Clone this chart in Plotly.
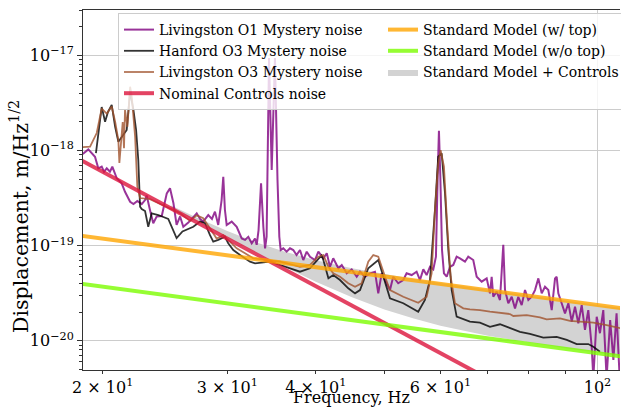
import plotly.graph_objects as go

# ---------------- data ----------------
# Livingston O1 Mystery noise
lo1_f = [18.75, 19.09, 19.51, 19.72, 19.94, 20.09, 20.27, 20.48, 20.64, 20.94, 21.28, 21.51,
         21.87, 22.11, 22.39, 22.71, 22.96, 23.08, 23.33, 23.58, 23.84, 24.24, 24.64, 24.90,
         25.18, 25.44, 25.73, 26.00, 26.43, 26.86, 27.16, 27.46, 27.74, 28.20, 28.54, 28.82,
         29.13, 29.45, 29.61, 29.77, 29.94, 30.43, 30.93, 31.44, 31.78, 32.12, 32.48, 32.83,
         33.01, 33.21, 33.48, 33.73, 33.92, 34.09, 34.36, 34.66, 35.03, 35.32, 35.53, 35.69,
         35.99, 36.39, 36.79, 37.18, 37.58, 38.00, 38.41, 38.84, 39.26, 39.90, 40.34, 41.00,
         41.46, 41.90, 42.34, 43.05, 43.53, 44.24, 44.96, 45.70, 46.19, 46.94, 47.72, 48.49,
         49.02, 49.56, 50.11, 50.92, 51.46, 52.30, 53.17, 53.75, 54.64, 55.53, 56.14, 56.75,
         57.37, 57.99, 58.62, 59.13, 59.46, 59.71, 59.98, 60.31, 60.69, 61.24, 61.89, 62.56,
         63.25, 63.93, 64.99, 65.68, 66.76, 67.51, 68.61, 69.74, 70.49, 70.88, 71.25, 72.04,
         72.82, 73.61, 74.02, 74.82, 75.65, 76.47, 77.29, 78.15, 79.00, 79.86, 80.74, 81.61,
         82.50, 83.41, 84.30, 85.22, 86.17, 87.10, 87.57, 88.04, 89.00, 89.97, 90.96, 91.96,
         92.95, 93.95, 94.99, 96.01, 97.05, 98.13, 98.65, 99.74, 100.8, 101.9, 103.0, 104.2,
         105.3, 106.4, 107.6]
lo1_v = [9.20e-19, 1.03e-18, 8.62e-19, 6.51e-19, 6.77e-19, 5.99e-19, 6.51e-19, 5.99e-19,
         6.77e-19, 5.11e-19, 4.53e-19, 3.69e-19, 2.90e-19, 2.74e-19, 2.95e-19, 2.74e-19,
         3.02e-19, 3.37e-19, 2.37e-19, 1.72e-19, 2.02e-19, 2.05e-19, 3.55e-19, 4.01e-19,
         2.79e-19, 1.65e-19, 2.03e-19, 1.58e-19, 1.75e-19, 2.02e-19, 2.19e-19, 1.91e-19,
         1.79e-19, 2.10e-19, 1.91e-19, 2.28e-19, 1.65e-19, 3.02e-19, 5.31e-19, 2.37e-19,
         1.65e-19, 1.79e-19, 1.58e-19, 1.19e-19, 1.15e-19, 1.24e-19, 1.06e-19, 1.19e-19,
         1.02e-19, 1.46e-19, 4.53e-19, 1.58e-19, 9.38e-20, 1.24e-19, 9.41e-18, 6.25e-19,
         9.41e-18, 4.90e-19, 1.24e-19, 9.00e-20, 9.38e-20, 8.64e-20, 9.38e-20, 9.00e-20,
         7.97e-20, 9.00e-20, 7.06e-20, 8.64e-20, 7.65e-20, 7.06e-20, 8.64e-20, 7.36e-20,
         8.31e-20, 6.00e-20, 7.36e-20, 5.78e-20, 6.26e-20, 5.12e-20, 5.63e-20, 4.71e-20,
         5.32e-20, 4.71e-20, 5.12e-20, 5.32e-20, 3.15e-20, 5.12e-20, 4.35e-20, 3.41e-20,
         4.71e-20, 4.02e-20, 4.35e-20, 5.12e-20, 4.91e-20, 5.32e-20, 4.35e-20, 5.63e-20,
         4.91e-20, 6.00e-20, 5.63e-20, 7.65e-20, 5.31e-19, 1.62e-18, 5.31e-19, 9.00e-20,
         5.12e-20, 4.71e-20, 6.00e-20, 6.26e-20, 7.65e-20, 7.36e-20, 6.78e-20, 7.65e-20,
         7.06e-20, 4.71e-20, 4.18e-20, 4.53e-20, 3.15e-20, 4.71e-20, 2.90e-20, 3.28e-20,
         2.68e-20, 1.02e-19, 3.41e-20, 2.48e-20, 2.90e-20, 2.19e-20, 2.90e-20, 2.37e-20,
         3.41e-20, 2.68e-20, 2.90e-20, 3.41e-20, 4.53e-20, 3.15e-20, 3.70e-20, 3.41e-20,
         2.10e-20, 4.53e-20, 4.71e-20, 3.15e-20, 2.48e-20, 1.94e-20, 2.48e-20, 1.59e-20,
         2.28e-20, 1.52e-20, 2.37e-20, 1.30e-20, 2.10e-20, 8.65e-21, 4.05e-21, 1.79e-20,
         1.20e-20, 2.10e-20, 4.05e-21, 1.65e-20, 6.27e-21, 1.94e-20, 3.42e-21]

# Hanford O3 Mystery noise
h3_f = [19.57, 19.73, 19.94, 20.16, 20.35, 20.60, 20.83, 21.05, 21.30, 21.63, 21.87, 22.11,
        22.30, 22.46, 22.59, 22.71, 22.96, 23.20, 23.46, 23.97, 24.76, 25.44, 25.93, 26.86,
        27.46, 27.90, 28.36, 28.66, 29.13, 29.77, 30.09, 30.59, 31.27, 32.30, 32.83, 34.47,
        35.61, 37.18, 38.00, 39.26, 40.34, 40.76, 41.00, 41.68, 42.34, 43.28, 44.46, 45.45,
        46.19, 47.45, 49.02, 50.11, 50.92, 53.17, 55.82, 57.05, 57.99, 58.94, 59.57, 60.24,
        60.90, 61.56, 62.24, 63.25, 66.04, 68.23, 70.49, 72.82, 75.22, 77.71, 80.28, 83.84,
        87.57, 90.49, 93.46, 97.05, 98.65, 100.8]
h3_v = [9.43e-19, 1.46e-18, 2.87e-18, 2.01e-18, 2.55e-18, 3.02e-18, 1.78e-18, 1.24e-18,
        1.42e-18, 1.65e-18, 4.16e-18, 2.67e-18, 1.65e-18, 7.96e-19, 2.57e-19, 2.43e-19,
        2.31e-19, 1.58e-19, 2.19e-19, 2.10e-19, 1.91e-19, 1.20e-19, 1.41e-19, 1.58e-19,
        1.79e-19, 1.72e-19, 1.29e-19, 1.10e-19, 1.15e-19, 1.24e-19, 1.06e-19, 9.00e-20,
        7.97e-20, 6.78e-20, 6.52e-20, 6.78e-20, 6.26e-20, 5.63e-20, 5.32e-20, 5.78e-20,
        7.36e-20, 7.88e-20, 7.06e-20, 4.53e-20, 4.91e-20, 4.35e-20, 3.56e-20, 3.15e-20,
        3.41e-20, 5.78e-20, 7.06e-20, 4.02e-20, 2.79e-20, 2.48e-20, 2.02e-20, 2.68e-20,
        4.35e-20, 2.37e-19, 8.62e-19, 9.36e-19, 3.55e-19, 9.00e-20, 3.41e-20, 1.79e-20,
        1.59e-20, 1.55e-20, 1.40e-20, 1.49e-20, 1.35e-20, 1.24e-20, 1.18e-20, 1.08e-20,
        1.10e-20, 1.02e-20, 9.23e-21, 9.23e-21, 8.65e-21, 7.66e-21]

# Livingston O3 Mystery noise
lo3_f = [18.76, 19.20, 19.62, 19.94, 20.27, 20.60, 20.83, 21.05, 21.12, 21.35, 21.44, 21.51,
         21.68, 21.87, 21.99, 22.23, 22.39, 22.59, 23.33, 24.11, 24.90, 25.73, 26.58, 27.16,
         27.74, 28.20, 28.51, 28.98, 29.61, 30.27, 30.93, 31.78, 32.65, 34.09, 35.61, 37.18,
         38.00, 39.26, 40.34, 41.00, 41.68, 42.34, 43.28, 44.46, 45.45, 46.44, 47.45, 48.23,
         49.02, 50.11, 50.92, 53.17, 55.82, 57.37, 58.31, 58.94, 59.57, 60.04, 60.69, 61.35,
         62.03, 62.90, 64.63, 66.04, 68.23, 70.49, 72.82, 75.22, 76.05, 79.43, 82.93, 84.75,
         88.51, 91.43, 94.46, 98.65, 103.0, 107.9]
lo3_v = [1.09e-18, 1.10e-18, 1.53e-18, 2.77e-18, 2.45e-18, 2.91e-18, 2.01e-18, 1.29e-18,
         7.40e-19, 2.00e-18, 1.06e-18, 2.67e-18, 1.78e-18, 4.70e-18, 3.69e-18, 1.40e-18,
         4.17e-19, 3.17e-19, 3.09e-19, 2.74e-19, 2.47e-19, 2.19e-19, 1.82e-19, 2.08e-19,
         1.94e-19, 1.61e-19, 1.40e-19, 1.19e-19, 1.29e-19, 1.10e-19, 9.38e-20, 8.31e-20,
         7.36e-20, 7.06e-20, 6.78e-20, 6.26e-20, 6.00e-20, 6.26e-20, 7.65e-20, 7.97e-20,
         6.00e-20, 5.12e-20, 4.71e-20, 4.02e-20, 3.70e-20, 4.02e-20, 6.78e-20, 7.97e-20,
         7.65e-20, 4.71e-20, 3.41e-20, 2.90e-20, 2.51e-20, 2.90e-20, 5.12e-20, 2.37e-19,
         7.35e-19, 1.01e-18, 6.77e-19, 1.58e-19, 4.71e-20, 2.48e-20, 2.19e-20, 2.14e-20,
         2.10e-20, 2.02e-20, 1.97e-20, 1.91e-20, 1.82e-20, 1.86e-20, 1.76e-20, 1.68e-20,
         1.72e-20, 1.62e-20, 1.59e-20, 1.55e-20, 1.46e-20, 1.35e-20]

# Nominal Controls noise (straight line on log-log axes)
ctrl_f = [18.0, 110.0]
ctrl_v = [9.14e-19, 6.56e-22]

# Standard Model (w/ top) and (w/o top)
smtop_f = [18.0, 110.0]
smtop_v = [1.32e-19, 2.16e-20]
smnotop_f = [18.0, 110.0]
smnotop_v = [4.11e-20, 6.73e-21]

# Standard Model + Controls band
band_f = [25, 27, 30, 33, 36, 40, 45, 50, 55, 60, 70, 80, 90, 100, 110]
band_hi = [2.64e-19, 2.01e-19, 1.43e-19, 1.08e-19, 8.74e-20, 7.03e-20, 5.78e-20, 5.00e-20,
           4.45e-20, 4.04e-20, 3.42e-20, 2.98e-20, 2.65e-20, 2.38e-20, 2.17e-20]
band_lo = [2.48e-19, 1.83e-19, 1.21e-19, 8.40e-20, 6.07e-20, 4.18e-20, 2.86e-20, 2.13e-20,
           1.71e-20, 1.44e-20, 1.13e-20, 9.54e-21, 8.35e-21, 7.46e-21, 6.76e-21]

# axis ticks
x_major_vals = [100]
x_major_text = ["10<sup>2</sup>"]
x_label_vals = [20, 30, 40, 60]
x_label_text = ["2 × 10<sup>1</sup>", "3 × 10<sup>1</sup>", "4 × 10<sup>1</sup>",
                "6 × 10<sup>1</sup>"]
x_minor = [50, 70, 80, 90]
y_tickvals = [1e-20, 1e-19, 1e-18, 1e-17]
y_ticktext = ["10<sup>−20</sup>", "10<sup>−19</sup>", "10<sup>−18</sup>", "10<sup>−17</sup>"]
y_minor = [k * 10.0 ** e for e in range(-21, -16) for k in range(2, 10)]

# ---------------- figure ----------------
FONT = "DejaVu Serif"
fig = go.Figure()

fig.add_trace(go.Scatter(x=band_f, y=band_lo, mode="lines", line=dict(width=0),
                         showlegend=False, hoverinfo="skip"))
fig.add_trace(go.Scatter(x=band_f, y=band_hi, mode="lines", line=dict(width=0),
                         fill="tonexty", fillcolor="rgba(211,211,211,1)",
                         name="Standard Model + Controls", legendrank=6))
fig.add_trace(go.Scatter(x=lo1_f, y=lo1_v, mode="lines",
                         line=dict(color="rgba(128,0,128,0.8)", width=2),
                         name="Livingston O1 Mystery noise", legendrank=1))
fig.add_trace(go.Scatter(x=h3_f, y=h3_v, mode="lines",
                         line=dict(color="rgba(0,0,0,0.8)", width=1.8),
                         name="Hanford O3 Mystery noise", legendrank=3))
fig.add_trace(go.Scatter(x=lo3_f, y=lo3_v, mode="lines",
                         line=dict(color="rgba(160,82,45,0.8)", width=1.8),
                         name="Livingston O3 Mystery noise", legendrank=5))
fig.add_trace(go.Scatter(x=ctrl_f, y=ctrl_v, mode="lines",
                         line=dict(color="rgba(220,20,60,0.8)", width=4),
                         name="Nominal Controls noise", legendrank=7))
fig.add_trace(go.Scatter(x=smtop_f, y=smtop_v, mode="lines",
                         line=dict(color="rgba(255,165,0,0.8)", width=4),
                         name="Standard Model (w/ top)", legendrank=2))
fig.add_trace(go.Scatter(x=smnotop_f, y=smnotop_v, mode="lines", xaxis="x2",
                         line=dict(color="rgba(124,252,0,0.8)", width=4),
                         name="Standard Model (w/o top)", legendrank=4))

W, H = 621, 407
ml, mr, mt, mb = 83, 1, 10, 37
pw = W - ml - mr
ph = H - mt - mb
XR = [1.27331, 2.03178]


def px_x(p):
    return (p - ml) / pw


def px_y(p):
    return 1 - (p - mt) / ph


fig.update_layout(
    width=W, height=H,
    margin=dict(l=ml, r=mr, t=mt, b=mb, pad=0, autoexpand=False),
    paper_bgcolor="white", plot_bgcolor="white",
    font=dict(family=FONT, size=16, color="black"),
    showlegend=True,
    legend=dict(
        orientation="h", entrywidth=219, entrywidthmode="pixels",
        x=px_x(118), y=px_y(13), xanchor="left", yanchor="top",
        bgcolor="rgba(255,255,255,0.8)", bordercolor="#cccccc", borderwidth=1,
        font=dict(family=FONT, size=14, color="black"),
        traceorder="normal", itemwidth=30,
    ),
    xaxis=dict(
        type="log", range=XR, automargin=False,
        tickmode="array", tickvals=x_major_vals, ticktext=x_major_text,
        ticks="outside", ticklen=3, tickcolor="#333333",
        showgrid=True, gridcolor="#cccccc", gridwidth=1, zeroline=False,
        showline=True, linecolor="#333333", linewidth=1, mirror=True,
        minor=dict(tickmode="array", tickvals=x_minor, ticks="outside", ticklen=3,
                   tickcolor="#333333", showgrid=False),
        title=dict(text="Frequency, Hz", font=dict(size=16), standoff=4),
        tickfont=dict(size=16),
    ),
    xaxis2=dict(
        type="log", range=XR, automargin=False, overlaying="x", side="bottom",
        anchor="y", tickmode="array", tickvals=x_label_vals, ticktext=x_label_text,
        ticks="outside", ticklen=3, tickcolor="#333333",
        showgrid=False, zeroline=False, showline=False,
        tickfont=dict(size=16),
    ),
    yaxis=dict(
        type="log", range=[-20.308, -16.521], automargin=False,
        tickmode="array", tickvals=y_tickvals, ticktext=y_ticktext,
        ticks="outside", ticklen=5, tickcolor="#333333",
        showgrid=True, gridcolor="#cccccc", gridwidth=1, zeroline=False,
        showline=True, linecolor="#333333", linewidth=1, mirror=False,
        minor=dict(tickmode="array", tickvals=y_minor, ticks="outside", ticklen=3,
                   tickcolor="#333333", showgrid=False),
        tickfont=dict(size=16),
    ),
    annotations=[
        dict(text="Displacement, m/Hz<sup>1/2</sup>", textangle=-90,
             xref="paper", yref="paper", x=px_x(20), y=px_y(217),
             xanchor="center", yanchor="middle", showarrow=False,
             font=dict(family=FONT, size=20.5, color="black")),
    ],
)

fig.write_html("out.html", config={"displayModeBar": False},
               post_script="document.body.style.margin='0px';"
                           "document.body.style.overflow='hidden';")
